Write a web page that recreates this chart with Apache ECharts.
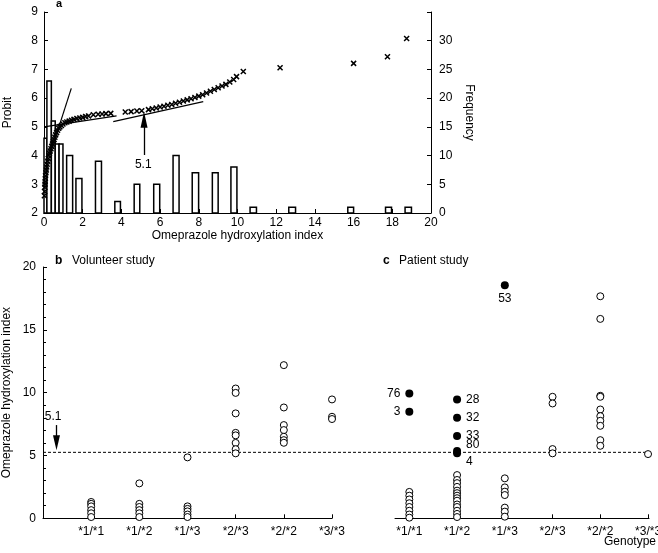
<!DOCTYPE html>
<html><head><meta charset="utf-8">
<script src="https://cdn.jsdelivr.net/npm/echarts@6/dist/echarts.min.js"></script>
<style>html,body{margin:0;padding:0;background:#fff}#c{width:658px;height:553px}</style>
</head><body><div id="c"></div>
<script>
// ---------- Panel a: histogram (frequency) ----------
const histLo   = [0.00,0.15,0.38,0.58,0.78,1.17,1.65,2.66,3.66,4.66,5.67,6.67,7.66,8.70,9.66,10.65,12.65,15.70,17.65,18.66];
const histHi   = [0.15,0.38,0.58,0.78,0.98,1.48,1.96,2.97,3.95,4.95,5.98,6.98,7.99,9.00,9.97,10.98,13.00,16.00,17.96,18.99];
const histFreq = [13,23,16,12,12,10,6,9,2,5,5,10,7,7,8,1,1,1,1,1];

// ---------- Panel a: probit plot ----------
const probitX = [0.02,0.03,0.04,0.05,0.06,0.07,0.08,0.10,0.12,0.14,0.16,0.19,0.22,0.25,0.28,0.32,0.36,0.40,0.44,0.48,0.52,0.56,0.60,0.65,0.70,0.76,0.82,0.90,0.98,1.08,1.18,1.30,1.42,1.55,1.70,1.85,2.00,2.15,2.30,
  2.55,2.80,3.00,3.20,3.45,4.20,4.50,4.80,5.05,5.40,5.60,5.80,6.00,6.20,6.40,6.60,6.80,7.00,7.20,7.40,7.60,7.80,8.00,8.20,8.40,8.60,8.80,9.00,9.20,9.40,9.60,9.80,9.95,10.30,12.20,16.00,17.75,18.74];
const probitY = [2.60,2.75,2.90,3.00,3.10,3.20,3.30,3.40,3.50,3.60,3.70,3.80,3.90,4.00,4.08,4.16,4.24,4.32,4.40,4.48,4.56,4.64,4.72,4.80,4.88,4.95,5.00,5.05,5.10,5.14,5.17,5.20,5.23,5.26,5.29,5.31,5.33,5.36,5.38,
  5.42,5.44,5.45,5.46,5.47,5.52,5.53,5.55,5.56,5.60,5.63,5.66,5.69,5.72,5.75,5.78,5.82,5.86,5.90,5.94,5.98,6.02,6.07,6.12,6.18,6.24,6.30,6.36,6.42,6.48,6.56,6.65,6.75,6.93,7.06,7.21,7.44,8.08];
// fitted component lines: [x0, y0, x1, y1]
const fitLine1 = [0.70,4.85,1.41,6.34];
const fitLine2 = [0.00,5.00,3.75,5.38];
const fitLine3 = [3.58,5.18,8.23,5.88];
const antimodeLabel = '5.1';

// ---------- Panels b & c ----------
const genotypes = ['*1/*1','*1/*2','*1/*3','*2/*3','*2/*2','*3/*3'];
const volunteer11 = [1.30,1.15,0.95,0.65,0.40,0.10];
const volunteer12 = [2.78,1.15,0.90,0.65,0.40,0.10];
const volunteer13 = [4.85,0.95,0.75,0.55,0.30,0.10];
const volunteer23 = [10.33,9.98,8.35,6.80,6.60,6.00,5.50,5.17];
const volunteer22 = [12.19,8.82,7.42,7.02,6.49,6.22,6.01];
const volunteer33 = [9.46,8.08,7.90];
const patient11 = [2.10,1.80,1.50,1.20,0.90,0.60,0.30,0.05];
const patient12 = [3.44,3.05,2.80,2.50,2.20,2.00,1.80,1.60,1.40,1.10,0.90,0.60,0.35,0.10];
const patient13 = [3.18,2.46,2.12,1.85,0.85,0.53,0.13];
const patient23 = [9.67,9.14,5.51,5.17];
const patient22 = [17.67,15.87,9.75,9.67,8.66,8.13,7.76,7.36,6.22,5.77];
const patient33 = [5.11];
const outlierGeno  = [1,1,2,2,2,2,2,3];
const outlierIndex = [9.94,8.48,9.46,8.00,6.54,5.35,5.17,18.55];
const outlierLabel = ['76','3','28','32','33','80','4','53'];
const antimodeLevel = 5.25;

// ---------- build ----------
const FONT = 'Liberation Sans, Arial, Helvetica, sans-serif';
const BLK = '#000';
const toPts = (g, arr) => arr.map(v => [g, v]);
const volunteerData = [].concat(toPts(1,volunteer11),toPts(2,volunteer12),toPts(3,volunteer13),toPts(4,volunteer23),toPts(5,volunteer22),toPts(6,volunteer33));
const patientData = [].concat(toPts(1,patient11),toPts(2,patient12),toPts(3,patient13),toPts(4,patient23),toPts(5,patient22),toPts(6,patient33));
const outlierPos = [
  {position:'left',distance:5},{position:'left',distance:5},
  {position:'right',distance:5},{position:'right',distance:5},{position:'right',distance:5},
  {position:'right',distance:5,offset:[0,-6]},{position:'right',distance:5,offset:[0,8]},
  {position:'bottom',distance:3}
];
const outlierData = outlierGeno.map((g,i)=>({value:[g,outlierIndex[i]],label:Object.assign({show:true,formatter:outlierLabel[i]},outlierPos[i])}));

const axisLine = {show:true,lineStyle:{color:BLK,width:1}};
const tickIn = {show:true,inside:true,length:4,lineStyle:{color:BLK,width:1}};
const lbl = (extra) => Object.assign({color:BLK,fontSize:12,fontFamily:FONT},extra||{});
const nameStyle = {color:BLK,fontSize:12,fontFamily:FONT};
const xSymbol = 'path://M0,0L10,10M10,0L0,10';
const lineSeg = (L) => ({type:'line',xAxisIndex:0,yAxisIndex:0,data:[[L[0],L[1]],[L[2],L[3]]],symbol:'none',silent:true,
  lineStyle:{color:BLK,width:1.2},z:4});
const g = (o) => Object.assign({outerBoundsMode:'none',containLabel:false},o);

const option = {
  animation:false,
  backgroundColor:'#fff',
  textStyle:{fontFamily:FONT,color:BLK},
  grid:[
    g({left:44,top:12,width:387,height:201}),
    g({left:43,top:267,width:289,height:251.3}),
    g({left:395,top:267,width:254,height:251.3}),
    g({left:43,top:267,width:603,height:251.3})
  ],
  xAxis:[
    {gridIndex:0,type:'value',min:0,max:20,interval:2,axisLine,axisTick:tickIn,splitLine:{show:false},
      axisLabel:lbl({margin:4}),name:'Omeprazole hydroxylation index',nameLocation:'middle',nameGap:13,nameTextStyle:nameStyle},
    {gridIndex:1,type:'value',min:0,max:6,axisLine,splitLine:{show:false},
      axisTick:Object.assign({},tickIn,{customValues:[1,2,3,4,5,6]}),
      axisLabel:lbl({margin:7,customValues:[1,2,3,4,5,6],formatter:v=>genotypes[Math.round(v)-1]||''})},
    {gridIndex:2,type:'value',min:0.7,max:6.02,axisLine,splitLine:{show:false},
      axisTick:Object.assign({},tickIn,{customValues:[1,2,3,4,5,6]}),
      axisLabel:lbl({margin:7,customValues:[1,2,3,4,5,6],formatter:v=>genotypes[Math.round(v)-1]||''})},
    {gridIndex:3,type:'value',min:0,max:1,show:false}
  ],
  yAxis:[
    {gridIndex:0,type:'value',min:2,max:9,interval:1,axisLine,axisTick:tickIn,splitLine:{show:false},
      axisLabel:lbl({margin:6}),name:'Probit',nameLocation:'middle',nameGap:30,nameTextStyle:nameStyle},
    {gridIndex:0,type:'value',position:'right',min:0,max:35,interval:5,axisLine,axisTick:tickIn,splitLine:{show:false},
      axisLabel:lbl({margin:8,formatter:v=>v===35?'':String(v)}),name:'Frequency',nameLocation:'middle',nameRotate:-90,nameGap:25,nameTextStyle:nameStyle},
    {gridIndex:1,type:'value',min:0,max:20,interval:5,axisLine,axisTick:tickIn,splitLine:{show:false},
      minorTick:{show:true,splitNumber:5,length:3,lineStyle:{color:BLK}},
      axisLabel:lbl({margin:7}),name:'Omeprazole hydroxylation index',nameLocation:'middle',nameGap:30,nameTextStyle:nameStyle},
    {gridIndex:2,type:'value',min:0,max:20,show:false},
    {gridIndex:3,type:'value',min:0,max:20,show:false}
  ],
  graphic:[
    {type:'text',left:56,top:-2,style:{text:'a',font:'bold 11px '+FONT,fill:BLK}},
    {type:'text',left:55,top:255,style:{text:'b',font:'bold 12px '+FONT,fill:BLK}},
    {type:'text',left:72,top:255,style:{text:'Volunteer study',font:'12px '+FONT,fill:BLK}},
    {type:'text',left:383,top:255,style:{text:'c',font:'bold 12px '+FONT,fill:BLK}},
    {type:'text',left:399,top:255,style:{text:'Patient study',font:'12px '+FONT,fill:BLK}},
    {type:'text',left:604,top:536,style:{text:'Genotype',font:'12px '+FONT,fill:BLK}}
  ],
  series:[
    {type:'custom',xAxisIndex:0,yAxisIndex:1,z:2,silent:true,
      data:histLo.map((lo,i)=>[lo,histHi[i],histFreq[i]]),
      encode:{x:[0,1],y:2},
      renderItem:(params,api)=>{
        const a = api.coord([api.value(0),api.value(2)]);
        const b = api.coord([api.value(1),0]);
        return {type:'rect',shape:{x:a[0],y:a[1],width:b[0]-a[0],height:b[1]-a[1]},
          style:{fill:'#fff',stroke:BLK,lineWidth:1.5}};
      }},
    lineSeg(fitLine1), lineSeg(fitLine2), lineSeg(fitLine3),
    {type:'scatter',xAxisIndex:0,yAxisIndex:0,z:5,silent:true,
      data:probitX.map((x,i)=>[x,probitY[i]]),
      symbol:xSymbol,symbolSize:5,itemStyle:{color:'none',borderColor:BLK,borderWidth:1.5,opacity:1}},
    {type:'scatter',xAxisIndex:0,yAxisIndex:0,z:6,silent:true,symbolSize:0,itemStyle:{opacity:1},
      data:[[5.13,3.67]],
      label:{show:true,position:'inside',formatter:antimodeLabel,color:BLK,fontSize:12,fontFamily:FONT},
      markLine:{silent:true,symbol:['none','triangle'],symbolSize:[7,16],label:{show:false},
        lineStyle:{color:BLK,width:1.3,type:'solid',opacity:1},
        data:[[{coord:[5.17,4.02]},{coord:[5.17,5.25]}]]}},
    // dashed antimode line across panels b and c
    {type:'line',xAxisIndex:3,yAxisIndex:4,z:1,silent:true,symbol:'none',
      data:[[0,antimodeLevel],[1,antimodeLevel]],lineStyle:{color:BLK,width:1,type:[3,2]}},
    // panel b
    {type:'scatter',xAxisIndex:1,yAxisIndex:2,z:5,silent:true,data:volunteerData,
      symbol:'circle',symbolSize:7,itemStyle:{color:'#fff',borderColor:BLK,borderWidth:1,opacity:1}},
    {type:'scatter',xAxisIndex:1,yAxisIndex:2,z:6,silent:true,symbolSize:0,itemStyle:{opacity:1},
      data:[[0.21,8.08]],
      label:{show:true,position:'inside',formatter:antimodeLabel,color:BLK,fontSize:12,fontFamily:FONT},
      markLine:{silent:true,symbol:['none','triangle'],symbolSize:[7,15],label:{show:false},
        lineStyle:{color:BLK,width:1.3,type:'solid',opacity:1},
        data:[[{coord:[0.28,7.42]},{coord:[0.28,6.02]}]]}},
    // panel c
    {type:'scatter',xAxisIndex:2,yAxisIndex:3,z:5,silent:true,data:patientData,
      symbol:'circle',symbolSize:7,itemStyle:{color:'#fff',borderColor:BLK,borderWidth:1,opacity:1}},
    {type:'scatter',xAxisIndex:2,yAxisIndex:3,z:6,silent:true,data:outlierData,
      symbol:'circle',symbolSize:8,itemStyle:{color:BLK,opacity:1},
      label:{color:BLK,fontSize:12,fontFamily:FONT}}
  ]
};
const chart = echarts.init(document.getElementById('c'),null,{renderer:'canvas'});
chart.setOption(option);
</script></body></html>
